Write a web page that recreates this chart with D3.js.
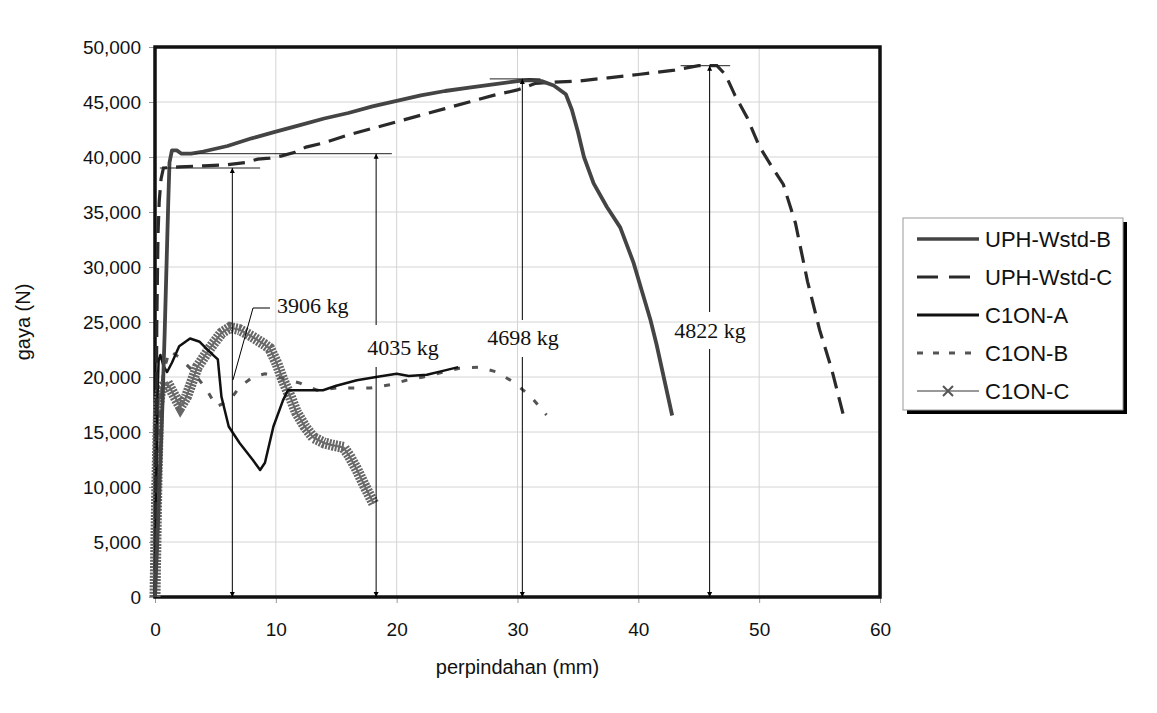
<!DOCTYPE html>
<meta charset="utf-8">
<style>
body { margin: 0; background: #fff; }
text { font-family: "Liberation Sans", Arial, sans-serif; }
.note { font-family: "Liberation Serif", "Times New Roman", serif; }
</style>
<body>
<script src="https://d3js.org/d3.v7.min.js"></script>
<script>

// displacement (mm) / force (N) pairs
var uphB = [[0,0],[0.3,8000],[0.6,17000],[0.8,24000],[1.0,32000],[1.1,36000],[1.2,39500],[1.4,40600],[1.8,40600],[2.2,40300],[3,40300],[4,40500],[6,41000],[8,41700],[10,42300],[12,42900],[14,43500],[16,44000],[18,44600],[20,45100],[22,45600],[24,46000],[26,46300],[28,46600],[30,46900],[31,47000],[32,46900],[33,46500],[34,45700],[34.5,44300],[35,42300],[35.5,40000],[36.3,37600],[37.4,35450],[38.5,33600],[39.6,30400],[40.3,27800],[41,25200],[41.5,23000],[42.1,20000],[42.8,16500]];
var uphC = [[0,0],[0.1,15000],[0.15,25000],[0.25,33000],[0.35,36000],[0.5,38000],[0.7,39000],[2,39100],[4,39200],[6,39300],[7.5,39500],[8.5,39800],[9.5,39900],[10.5,40100],[11.5,40400],[12.5,40900],[14,41300],[16,42000],[18,42600],[20,43200],[22,43800],[24,44400],[26,45000],[28,45600],[30,46100],[31.5,46700],[33,46800],[35,46900],[37.5,47200],[40,47500],[43,47900],[45,48300],[46.5,48300],[47.2,47500],[48,45600],[49,43600],[50,41000],[51,39200],[52,37500],[53,34000],[54,28700],[55,24300],[56,20700],[57,16400]];
var c1onA = [[0,0],[0.1,10000],[0.2,18000],[0.3,21500],[0.45,22000],[0.7,21000],[1.0,20450],[1.4,21300],[2,22800],[2.9,23500],[3.7,23200],[4.5,22300],[5.2,21600],[5.5,18200],[6.1,15500],[7,14000],[8.1,12450],[8.7,11550],[9.1,12200],[9.8,15500],[10.6,17900],[11,18800],[12,18800],[13.9,18800],[15,19200],[16.7,19700],[18.3,20000],[20,20300],[21,20100],[22.5,20200],[24,20600],[25.1,20900]];
var c1onB = [[0,0],[0.2,12000],[0.4,17500],[0.7,20500],[1.2,22400],[2,21800],[3,20700],[4.3,18800],[5.1,17300],[6.2,17900],[7,19100],[8.1,20000],[9.1,20300],[10.5,19900],[12,19450],[13.4,18800],[15,19000],[17.8,19000],[19.5,19300],[20.8,19700],[22.2,20000],[23.7,20400],[25.2,20800],[26.8,20900],[28.3,20450],[29.8,19450],[31.2,18100],[32.4,16550]];
var c1onC = [[0,0],[0.15,10000],[0.3,17500],[0.5,19000],[1,19500],[1.5,18500],[2.1,17300],[2.6,18200],[3.5,20900],[4.6,22700],[5.5,24000],[6.2,24500],[7,24300],[8,23700],[9,23000],[9.5,22600],[10.1,21200],[10.6,19700],[11.2,18200],[11.7,16800],[12.4,15500],[13.1,14500],[14,14000],[14.7,13800],[15.6,13600],[16.1,12800],[16.7,11600],[17.4,10000],[18.1,8500]];

var seriesNames = ["UPH-Wstd-B", "UPH-Wstd-C", "C1ON-A", "C1ON-B", "C1ON-C"];

var xTicks = [0, 10, 20, 30, 40, 50, 60];
var yTicks = [0, 5000, 10000, 15000, 20000, 25000, 30000, 35000, 40000, 45000, 50000];

// peak annotations: arrow x, peak force, reference line span, label
var peakX = [6.4, 18.3, 30.4, 45.9];
var peakY = [39000, 40300, 47100, 48300];
var refFrom = [0.4, 3.3, 27.7, 43.5];
var refTo = [8.7, 19.6, 31.9, 47.6];
var peakLabels = ["3906 kg", "4035 kg", "4698 kg", "4822 kg"];

var width = 1157, height = 713;
var margin = {left: 155, right: 277, top: 47, bottom: 116};

var svg = d3.select("body").append("svg")
  .attr("width", width).attr("height", height);

var defs = svg.append("defs");
defs.append("marker").attr("id", "arr")
  .attr("viewBox", "0 0 10 10").attr("refX", 10).attr("refY", 5)
  .attr("markerWidth", 5).attr("markerHeight", 12)
  .attr("markerUnits", "userSpaceOnUse")
  .attr("orient", "auto-start-reverse")
  .append("path").attr("d", "M0,0 L10,5 L0,10 z").attr("fill", "#000");

var x = d3.scaleLinear().domain([0, 60]).range([margin.left, width - margin.right]);
var y = d3.scaleLinear().domain([0, 50000]).range([height - margin.bottom, margin.top]);

// gridlines
svg.append("g").selectAll("line").data(xTicks.slice(1, -1)).enter().append("line")
  .attr("x1", d => x(d)).attr("x2", d => x(d))
  .attr("y1", y(0)).attr("y2", y(50000))
  .attr("stroke", "#d4d4d4").attr("stroke-width", 1);
svg.append("g").selectAll("line").data(yTicks.slice(1, -1)).enter().append("line")
  .attr("x1", x(0)).attr("x2", x(60))
  .attr("y1", d => y(d)).attr("y2", d => y(d))
  .attr("stroke", "#d4d4d4").attr("stroke-width", 1);

// axes
var xAxis = d3.axisBottom(x).tickValues(xTicks).tickSize(6).tickPadding(20);
var yAxis = d3.axisLeft(y).tickValues(yTicks).tickSize(6).tickPadding(8).tickFormat(d3.format(","));

var gx = svg.append("g").attr("transform", "translate(0," + y(0) + ")").call(xAxis);
var gy = svg.append("g").attr("transform", "translate(" + x(0) + ",0)").call(yAxis);
[gx, gy].forEach(function(g) {
  g.select(".domain").remove();
  g.selectAll(".tick line").attr("stroke", "#999");
  g.selectAll("text").style("font-size", "19px").attr("fill", "#111");
});

// plot frame
svg.append("rect")
  .attr("x", x(0)).attr("y", y(50000))
  .attr("width", x(60) - x(0)).attr("height", y(0) - y(50000))
  .attr("fill", "none").attr("stroke", "#111").attr("stroke-width", 3.5);

var line = d3.line().x(d => x(d[0])).y(d => y(d[1]));

// C1ON-C: hatched band from dense x markers
svg.append("path").datum(c1onC).attr("d", line)
  .attr("fill", "none").attr("stroke", "#666").attr("stroke-width", 11)
  .attr("stroke-dasharray", "2,1.2");
svg.append("path").datum(c1onC).attr("d", line)
  .attr("fill", "none").attr("stroke", "#6a6a6a").attr("stroke-width", 2);

svg.append("path").datum(c1onB).attr("d", line)
  .attr("fill", "none").attr("stroke", "#555").attr("stroke-width", 3)
  .attr("stroke-dasharray", "6,12");

svg.append("path").datum(c1onA).attr("d", line)
  .attr("fill", "none").attr("stroke", "#111").attr("stroke-width", 2.5)
  .attr("stroke-linejoin", "round");

svg.append("path").datum(uphC).attr("d", line)
  .attr("fill", "none").attr("stroke", "#2a2a2a").attr("stroke-width", 3.2)
  .attr("stroke-dasharray", "17,9");

svg.append("path").datum(uphB).attr("d", line)
  .attr("fill", "none").attr("stroke", "#444").attr("stroke-width", 3.8)
  .attr("stroke-linejoin", "round");

// peak reference lines
svg.append("g").selectAll("line").data(peakX).enter().append("line")
  .attr("x1", (d, i) => x(refFrom[i])).attr("x2", (d, i) => x(refTo[i]))
  .attr("y1", (d, i) => y(peakY[i])).attr("y2", (d, i) => y(peakY[i]))
  .attr("stroke", "#222").attr("stroke-width", 1);

// labels (pixel offsets for layout)
var labelPos = [
  {x: 277, y: 313, anchor: "start"},
  {x: 403, y: 355, anchor: "middle"},
  {x: 523, y: 345, anchor: "middle"},
  {x: 710, y: 338, anchor: "middle"}
];
// gaps in the arrows where the labels sit
var gapTop = [null, 325, 320, 312];
var gapBot = [null, 367, 357, 349];

peakX.forEach(function(px, i) {
  var ax = x(px);
  if (gapTop[i] === null) {
    svg.append("line").attr("x1", ax).attr("x2", ax)
      .attr("y1", y(peakY[i])).attr("y2", y(0))
      .attr("stroke", "#000").attr("stroke-width", 1)
      .attr("marker-start", "url(#arr)").attr("marker-end", "url(#arr)");
  } else {
    svg.append("line").attr("x1", ax).attr("x2", ax)
      .attr("y1", gapTop[i]).attr("y2", y(peakY[i]))
      .attr("stroke", "#000").attr("stroke-width", 1)
      .attr("marker-end", "url(#arr)");
    svg.append("line").attr("x1", ax).attr("x2", ax)
      .attr("y1", gapBot[i]).attr("y2", y(0))
      .attr("stroke", "#000").attr("stroke-width", 1)
      .attr("marker-end", "url(#arr)");
  }
  svg.append("text").attr("class", "note")
    .attr("x", labelPos[i].x).attr("y", labelPos[i].y)
    .attr("text-anchor", labelPos[i].anchor)
    .style("font-size", "22px").attr("fill", "#111")
    .text(peakLabels[i]);
});

// leader for 3906 kg
svg.append("polyline")
  .attr("points", [[270, 308], [253, 308], [x(6.45), 380]].map(p => p.join(",")).join(" "))
  .attr("fill", "none").attr("stroke", "#000").attr("stroke-width", 1);

// axis titles
svg.append("text")
  .attr("x", (x(0) + x(60)) / 2).attr("y", 674)
  .attr("text-anchor", "middle").style("font-size", "20px").attr("fill", "#111")
  .text("perpindahan (mm)");
svg.append("text")
  .attr("transform", "translate(30," + ((y(0) + y(50000)) / 2) + ") rotate(-90)")
  .attr("text-anchor", "middle").style("font-size", "20px").attr("fill", "#111")
  .text("gaya (N)");

// legend
var lg = svg.append("g").attr("transform", "translate(903,218)");
var lgW = 220, lgH = 192;
lg.append("rect").attr("x", 4).attr("y", 4).attr("width", lgW).attr("height", lgH).attr("fill", "#000");
lg.append("rect").attr("width", lgW).attr("height", lgH).attr("fill", "#fff")
  .attr("stroke", "#999").attr("stroke-width", 1);

var lgStyle = [
  {stroke: "#444", w: 3.5, dash: null},
  {stroke: "#2a2a2a", w: 3, dash: "21,11"},
  {stroke: "#111", w: 3, dash: null},
  {stroke: "#555", w: 3, dash: "6,10"},
  {stroke: "#777", w: 1.5, dash: null}
];
var item = lg.selectAll("g.item").data(seriesNames).enter().append("g")
  .attr("class", "item")
  .attr("transform", (d, i) => "translate(0," + (21 + i * 38) + ")");
item.append("line")
  .attr("x1", 14).attr("x2", 76).attr("y1", 0).attr("y2", 0)
  .attr("stroke", (d, i) => lgStyle[i].stroke)
  .attr("stroke-width", (d, i) => lgStyle[i].w)
  .attr("stroke-dasharray", (d, i) => lgStyle[i].dash);
item.filter((d, i) => i === 4).append("path")
  .attr("d", "M40,-5 L50,5 M40,5 L50,-5")
  .attr("stroke", "#555").attr("stroke-width", 2);
item.append("text")
  .attr("x", 82).attr("y", 8)
  .style("font-size", "22px").attr("fill", "#111")
  .text(d => d);

</script>
</body>
